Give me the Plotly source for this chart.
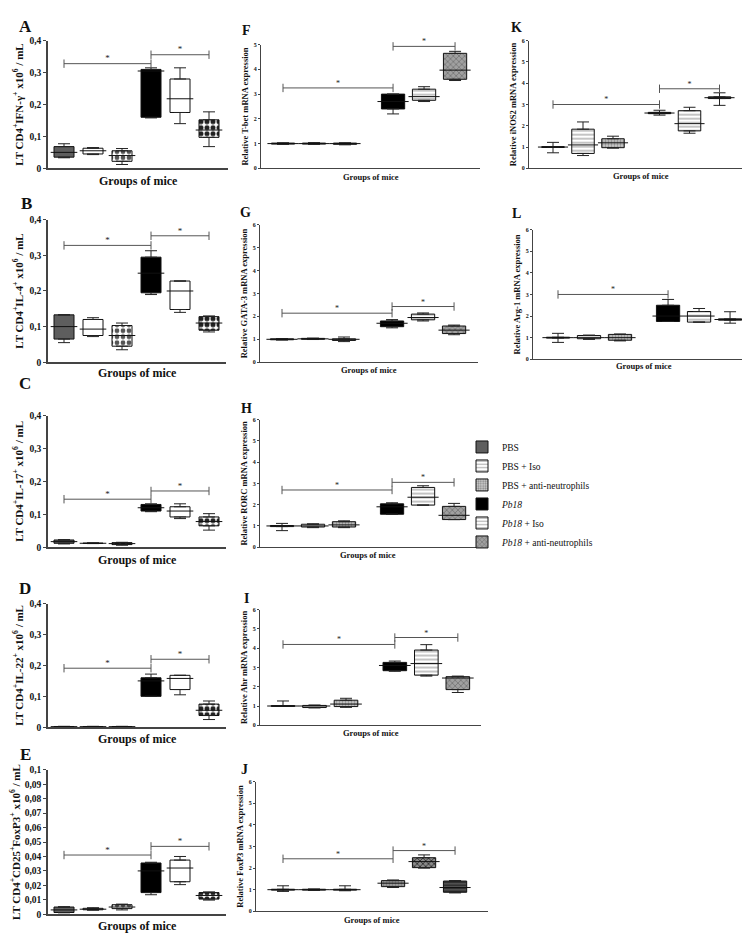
import plotly.graph_objects as go

W, H = 750, 934
FONT = "Liberation Serif"

groups = ["PBS", "PBS + Iso", "PBS + anti-neutrophils", "Pb18", "Pb18 + Iso", "Pb18 + anti-neutrophils"]
legend_names = ["PBS", "PBS + Iso", "PBS + anti-neutrophils",
                "<i>Pb18</i>", "<i>Pb18</i> + Iso", "<i>Pb18</i> + anti-neutrophils"]

# ---------------- data (min, q1, median, q3, max per group) ----------------
A_min = [0.033, 0.043, 0.012, 0.158, 0.140, 0.068]
A_q1 = [0.035, 0.045, 0.022, 0.160, 0.175, 0.097]
A_med = [0.050, 0.055, 0.040, 0.305, 0.218, 0.120]
A_q3 = [0.068, 0.063, 0.055, 0.310, 0.280, 0.152]
A_max = [0.077, 0.065, 0.062, 0.315, 0.315, 0.177]
A_brackets = [[0, 3, 0.328], [3, 5, 0.356]]

B_min = [0.055, 0.072, 0.035, 0.190, 0.140, 0.085]
B_q1 = [0.065, 0.075, 0.045, 0.195, 0.148, 0.090]
B_med = [0.100, 0.093, 0.075, 0.250, 0.200, 0.110]
B_q3 = [0.133, 0.120, 0.103, 0.295, 0.228, 0.128]
B_max = [0.133, 0.125, 0.110, 0.313, 0.228, 0.130]
B_brackets = [[0, 3, 0.328], [3, 5, 0.355]]

C_min = [0.010, 0.011, 0.006, 0.108, 0.087, 0.052]
C_q1 = [0.012, 0.0115, 0.008, 0.110, 0.092, 0.065]
C_med = [0.017, 0.012, 0.011, 0.120, 0.110, 0.078]
C_q3 = [0.022, 0.0125, 0.014, 0.130, 0.123, 0.092]
C_max = [0.023, 0.013, 0.015, 0.132, 0.132, 0.102]
C_brackets = [[0, 3, 0.146], [3, 5, 0.171]]

D_min = [0.001, 0.001, 0.001, 0.100, 0.105, 0.025]
D_q1 = [0.0015, 0.0015, 0.0015, 0.100, 0.122, 0.038]
D_med = [0.002, 0.002, 0.002, 0.150, 0.158, 0.055]
D_q3 = [0.0025, 0.0025, 0.0025, 0.160, 0.168, 0.075]
D_max = [0.003, 0.003, 0.003, 0.172, 0.168, 0.085]
D_brackets = [[0, 3, 0.191], [3, 5, 0.220]]

E_min = [0.0010, 0.0028, 0.0030, 0.0135, 0.0205, 0.0098]
E_q1 = [0.0012, 0.0031, 0.0039, 0.0150, 0.0225, 0.0105]
E_med = [0.0030, 0.0035, 0.0050, 0.0300, 0.0320, 0.0130]
E_q3 = [0.0050, 0.0041, 0.0066, 0.0355, 0.0375, 0.0150]
E_max = [0.0052, 0.0045, 0.0070, 0.0360, 0.0400, 0.0155]
E_brackets = [[0, 3, 0.041], [3, 5, 0.047]]

F_min = [0.97, 0.97, 0.95, 2.20, 2.70, 3.55]
F_q1 = [0.98, 0.98, 0.97, 2.40, 2.75, 3.60]
F_med = [1.00, 1.00, 1.00, 2.70, 2.90, 3.97]
F_q3 = [1.02, 1.02, 1.02, 3.00, 3.20, 4.65]
F_max = [1.03, 1.04, 1.03, 3.00, 3.30, 4.73]
F_brackets = [[0, 3, 3.25], [3, 5, 4.93]]

G_min = [0.97, 0.99, 0.90, 1.50, 1.80, 1.20]
G_q1 = [0.98, 1.00, 0.95, 1.55, 1.85, 1.25]
G_med = [1.00, 1.02, 1.00, 1.70, 1.95, 1.40]
G_q3 = [1.02, 1.04, 1.02, 1.80, 2.10, 1.58]
G_max = [1.03, 1.05, 1.10, 1.86, 2.15, 1.62]
G_brackets = [[0, 3, 2.14], [3, 5, 2.43]]

H_min = [0.78, 0.92, 0.92, 1.55, 1.98, 1.30]
H_q1 = [0.97, 0.95, 0.95, 1.55, 1.98, 1.30]
H_med = [1.00, 1.00, 1.05, 1.90, 2.35, 1.50]
H_q3 = [1.02, 1.08, 1.20, 2.04, 2.81, 1.92]
H_max = [1.12, 1.10, 1.24, 2.09, 2.89, 2.06]
H_brackets = [[0, 3, 2.69], [3, 5, 3.05]]

I_min = [0.98, 0.90, 0.93, 2.80, 2.55, 1.70]
I_q1 = [0.98, 0.92, 0.97, 2.83, 2.60, 1.85]
I_med = [1.00, 1.00, 1.10, 3.10, 3.20, 2.45]
I_q3 = [1.02, 1.03, 1.30, 3.26, 3.90, 2.52]
I_max = [1.26, 1.05, 1.40, 3.33, 4.18, 2.55]
I_brackets = [[0, 3, 4.19], [3, 5, 4.55]]

J_min = [0.92, 0.97, 0.95, 1.10, 2.00, 0.85]
J_q1 = [0.98, 0.98, 0.98, 1.14, 2.02, 0.88]
J_med = [1.00, 1.00, 1.00, 1.30, 2.30, 1.10]
J_q3 = [1.02, 1.02, 1.02, 1.42, 2.48, 1.40]
J_max = [1.18, 1.03, 1.18, 1.45, 2.61, 1.42]
J_brackets = [[0, 3, 2.43], [3, 5, 2.81]]

K_min = [0.73, 0.60, 0.95, 2.50, 1.65, 2.96]
K_q1 = [0.98, 0.70, 0.97, 2.57, 1.76, 3.28]
K_med = [1.00, 1.10, 1.20, 2.60, 2.10, 3.32]
K_q3 = [1.02, 1.84, 1.39, 2.63, 2.71, 3.36]
K_max = [1.22, 2.18, 1.51, 2.73, 2.87, 3.55]
K_brackets = [[0, 3, 3.0], [3, 5, 3.74]]

L_min = [0.78, 0.92, 0.85, 1.75, 1.72, 1.67]
L_q1 = [0.98, 0.95, 0.88, 1.75, 1.72, 1.81]
L_med = [1.00, 1.00, 1.00, 2.00, 2.00, 1.84]
L_q3 = [1.02, 1.10, 1.15, 2.50, 2.21, 1.87]
L_max = [1.20, 1.12, 1.17, 2.77, 2.35, 2.20]
L_brackets = [[0, 3, 3.0]]

# tick labels
cell_tickvals = [0, 0.1, 0.2, 0.3, 0.4]
cell_ticktext = ["0", "0,1", "0,2", "0,3", "0,4"]
treg_tickvals = [0, 0.01, 0.02, 0.03, 0.04, 0.05, 0.06, 0.07, 0.08, 0.09, 0.1]
treg_ticktext = ["0", "0,01", "0,02", "0,03", "0,04", "0,05", "0,06", "0,07", "0,08", "0,09", "0,1"]
mrna5_tickvals = [0, 1, 2, 3, 4, 5]
mrna6_tickvals = [0, 1, 2, 3, 4, 5, 6]

x_title = "Groups of mice"


# ---------------- styles ----------------
def st(bg, shape="", fg="black", size=6, sol=0.4):
    return dict(bg=bg, shape=shape, fg=fg, size=size, sol=sol)


L_STYLES = [st("#5e5e5e"), st("white"), st("white", ".", "#555", 6, 0.5),
            st("black"), st("white"), st("white", ".", "#222", 6, 0.55)]
R_STYLES = [st("#5e5e5e"), st("white", "-", "#8a8a8a", 4, 0.25), st("#cfcfcf", ".", "#8a8a8a", 3, 0.45),
            st("black"), st("white", "-", "#8a8a8a", 4, 0.25), st("#a0a0a0", "x", "#6a6a6a", 4, 0.3)]
J_STYLES = R_STYLES[:3] + [st("#b0b0b0", ".", "#777", 3, 0.5), st("#8a8a8a", "x", "#333", 4, 0.4),
                           st("#555", "-", "#222", 3, 0.4)]

LEFT_POS = [0, 1, 2, 3, 4, 5]
RIGHT_POS = [0, 1, 2, 3.55, 4.55, 5.55]

panels = [
    dict(k="A", d=(A_min, A_q1, A_med, A_q3, A_max), br=A_brackets, side="L", box=(40, 220, 28, 157), off=16, sp=29,
         yr=[0, 0.4], tv=cell_tickvals, tt=cell_ticktext, xt=170,
         yt="LT CD4<sup>+</sup>IFN-γ<sup>+</sup> x10<sup>6</sup> / mL", let=(17, 14)),
    dict(k="B", d=(B_min, B_q1, B_med, B_q3, B_max), br=B_brackets, side="L", box=(40, 218, 209, 353), off=16, sp=29,
         yr=[0, 0.4], tv=cell_tickvals, tt=cell_ticktext, xt=364,
         yt="LT CD4<sup>+</sup>IL-4<sup>+</sup> x10<sup>6</sup> / mL", let=(18, 193)),
    dict(k="C", d=(C_min, C_q1, C_med, C_q3, C_max), br=C_brackets, side="L", box=(40, 218, 407, 540), off=16, sp=29,
         yr=[0, 0.4], tv=cell_tickvals, tt=cell_ticktext, xt=553,
         yt="LT CD4<sup>+</sup>IL-17<sup>+</sup> x10<sup>6</sup> / mL", let=(17, 375)),
    dict(k="D", d=(D_min, D_q1, D_med, D_q3, D_max), br=D_brackets, side="L", box=(40, 218, 597, 722), off=16, sp=29,
         yr=[0, 0.4], tv=cell_tickvals, tt=cell_ticktext, xt=734,
         yt="LT CD4<sup>+</sup>IL-22<sup>+</sup> x10<sup>6</sup> / mL", let=(17, 582)),
    dict(k="E", d=(E_min, E_q1, E_med, E_q3, E_max), br=E_brackets, side="L", box=(40, 218, 765, 911), off=16, sp=29,
         yr=[0, 0.1], tv=treg_tickvals, tt=treg_ticktext, xt=923,
         yt="LT CD4<sup>+</sup>CD25<sup>+</sup>FoxP3<sup>+</sup> x10<sup>6</sup> / mL", let=(17, 750)),
    dict(k="F", d=(F_min, F_q1, F_med, F_q3, F_max), br=F_brackets, side="R", box=(253, 472, 32, 157), off=22, sp=31,
         yr=[0, 5], tv=mrna5_tickvals, tt=[str(v) for v in mrna5_tickvals], xt=166,
         yt="Relative T-bet mRNA expression", let=(238, 18)),
    dict(k="G", d=(G_min, G_q1, G_med, G_q3, G_max), br=G_brackets, side="R", box=(252, 470, 214, 353), off=22, sp=31,
         yr=[0, 6], tv=mrna6_tickvals, tt=[str(v) for v in mrna6_tickvals], xt=361,
         yt="Relative GATA-3 mRNA expression", let=(237, 202)),
    dict(k="H", d=(H_min, H_q1, H_med, H_q3, H_max), br=H_brackets, side="R", box=(252, 468, 411, 540), off=22, sp=31,
         yr=[0, 6], tv=mrna6_tickvals, tt=[str(v) for v in mrna6_tickvals], xt=548,
         yt="Relative RORC mRNA expression", let=(238, 400)),
    dict(k="I", d=(I_min, I_q1, I_med, I_q3, I_max), br=I_brackets, side="R", box=(252, 473, 603, 720), off=23, sp=31.5,
         yr=[0, 6], tv=mrna6_tickvals, tt=[str(v) for v in mrna6_tickvals], xt=728,
         yt="Relative Ahr mRNA expression", let=(238, 592)),
    dict(k="J", d=(J_min, J_q1, J_med, J_q3, J_max), br=J_brackets, side="R", box=(248, 480, 777, 908), off=27, sp=31,
         yr=[0, 6], tv=mrna6_tickvals, tt=[str(v) for v in mrna6_tickvals], xt=917,
         yt="Relative FoxP3 mRNA expression", let=(236, 765), styles=J_STYLES),
    dict(k="K", d=(K_min, K_q1, K_med, K_q3, K_max), br=K_brackets, side="R", box=(521, 745, 28, 157), off=24, sp=30,
         yr=[0, 6], tv=mrna6_tickvals, tt=[str(v) for v in mrna6_tickvals], xt=165,
         yt="Relative iNOS2 mRNA expression", let=(508, 15)),
    dict(k="L", d=(L_min, L_q1, L_med, L_q3, L_max), br=L_brackets, side="R", box=(525, 746, 219, 350), off=25, sp=31,
         yr=[0, 6], tv=mrna6_tickvals, tt=[str(v) for v in mrna6_tickvals], xt=357,
         yt="Relative Arg-1 mRNA expression", let=(508, 203)),
]

LEGEND_PANEL = "F"

fig = go.Figure()
layout = {}
annotations = []

for i, p in enumerate(panels):
    n = i + 1
    xa = "x" if n == 1 else f"x{n}"
    ya = "y" if n == 1 else f"y{n}"
    left = p["side"] == "L"
    pos = LEFT_POS if left else RIGHT_POS
    styles = p.get("styles") or (L_STYLES if left else R_STYLES)
    mins, q1, med, q3, maxs = p["d"]
    x0, x1, ytop, ybot = p["box"]
    bw = 0.69 if left else 0.75
    mlen = bw * p["sp"] - 1
    cap = 6

    for g in range(6):
        s = styles[g]
        fig.add_trace(go.Bar(
            x=[pos[g]], y=[q3[g] - q1[g]], base=[q1[g]], width=bw,
            marker=dict(color=s["bg"], line=dict(color="#111", width=1),
                        pattern=dict(shape=s["shape"], fgcolor=s["fg"], bgcolor=s["bg"],
                                     size=s["size"], solidity=s["sol"], fillmode="replace")),
            name=legend_names[g], legendrank=g + 1,
            showlegend=(p["k"] == LEGEND_PANEL),
            xaxis=xa, yaxis=ya, hoverinfo="skip"))

    # upper and lower whiskers
    fig.add_trace(go.Scatter(
        x=pos, y=q3, mode="markers", marker=dict(size=1, color="rgba(0,0,0,0)"),
        error_y=dict(type="data", symmetric=False, array=[maxs[g] - q3[g] for g in range(6)],
                     arrayminus=[0] * 6, color="#222", thickness=1, width=cap),
        xaxis=xa, yaxis=ya, showlegend=False, hoverinfo="skip"))
    fig.add_trace(go.Scatter(
        x=pos, y=q1, mode="markers", marker=dict(size=1, color="rgba(0,0,0,0)"),
        error_y=dict(type="data", symmetric=False, array=[0] * 6,
                     arrayminus=[q1[g] - mins[g] for g in range(6)], color="#222", thickness=1, width=cap),
        xaxis=xa, yaxis=ya, showlegend=False, hoverinfo="skip"))
    # medians
    fig.add_trace(go.Scatter(
        x=pos, y=med, mode="markers",
        marker=dict(symbol="line-ew", size=mlen, color="#111", line=dict(color="#111", width=1)),
        xaxis=xa, yaxis=ya, showlegend=False, hoverinfo="skip"))
    # significance brackets
    for a, b, lvl in p["br"]:
        fig.add_trace(go.Scatter(
            x=[pos[a], pos[b]], y=[lvl, lvl], mode="lines+markers",
            line=dict(color="#555", width=1),
            marker=dict(symbol="line-ns", size=6, color="#555", line=dict(color="#555", width=1)),
            xaxis=xa, yaxis=ya, showlegend=False, hoverinfo="skip", cliponaxis=False))
        fig.add_trace(go.Scatter(
            x=[(pos[a] + pos[b]) / 2], y=[lvl], mode="text", text=["*"], textposition="top center",
            textfont=dict(family=FONT, size=9 if left else 8, color="#222"),
            xaxis=xa, yaxis=ya, showlegend=False, hoverinfo="skip", cliponaxis=False))

    xr = [-p["off"] / p["sp"], (x1 - x0 - p["off"]) / p["sp"]]
    lw = 1.5 if left else 1
    layout[f"xaxis{'' if n == 1 else n}"] = dict(
        domain=[x0 / W, x1 / W], range=xr, anchor=ya, showline=True, linecolor="#444", linewidth=lw,
        showticklabels=False, ticks="", showgrid=False, zeroline=False, fixedrange=True)
    layout[f"yaxis{'' if n == 1 else n}"] = dict(
        domain=[1 - ybot / H, 1 - ytop / H], range=p["yr"], anchor=xa, showline=True, linecolor="#444",
        linewidth=lw, ticks="outside", ticklen=3 if left else 2, tickwidth=1, tickcolor="#444",
        tickvals=p["tv"], ticktext=p["tt"], showgrid=False, zeroline=False, fixedrange=True,
        tickfont=dict(family=FONT, size=9.5 if left else 6, weight="bold", color="#111"),
        title=dict(text=p["yt"], standoff=4 if left else 3,
                   font=dict(family=FONT, size=11 if left else 8.5, weight="bold", color="#111")))
    # x-axis title
    annotations.append(dict(text=x_title, x=(x0 + x1) / 2 / W, y=1 - p["xt"] / H, xref="paper", yref="paper",
                            xanchor="center", yanchor="middle", showarrow=False,
                            font=dict(family=FONT, size=12 if left else 8.5, weight="bold", color="#111")))
    lx, ly = p["let"]
    annotations.append(dict(text=p["k"], x=lx / W, y=1 - ly / H, xref="paper", yref="paper",
                            xanchor="center", yanchor="middle", showarrow=False,
                            font=dict(family=FONT, size=17 if left else 14, weight="bold", color="#111")))

fig.update_layout(
    width=W, height=H, margin=dict(l=0, r=0, t=0, b=0),
    paper_bgcolor="white", plot_bgcolor="white", barmode="overlay",
    annotations=annotations,
    legend=dict(x=454 / W, y=1 - 424 / H, xanchor="left", yanchor="top",
                font=dict(family=FONT, size=9.5, color="#111"), bgcolor="rgba(0,0,0,0)",
                itemwidth=30, tracegroupgap=0, traceorder="normal"),
    **layout,
)

fig.write_html("out.html")
